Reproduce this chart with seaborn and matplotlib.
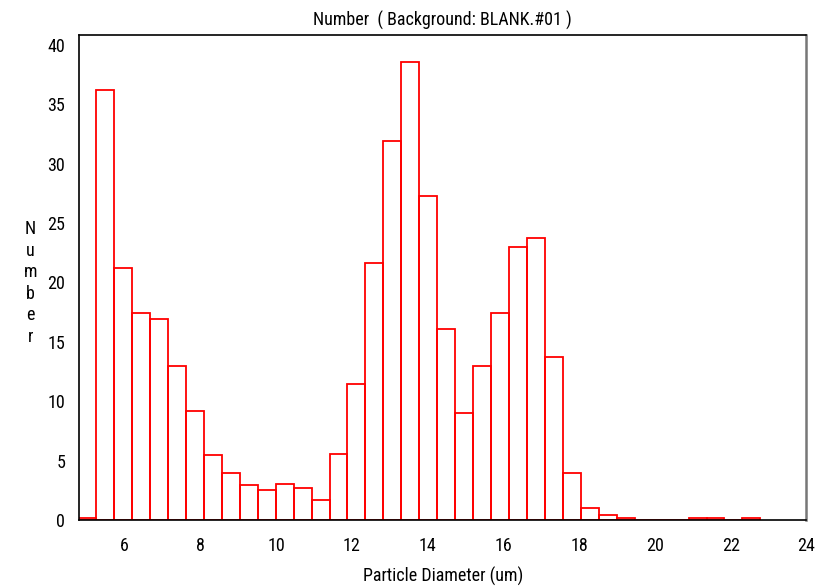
import numpy as np
import pandas as pd
import matplotlib
matplotlib.use("Agg")
import matplotlib.pyplot as plt
import seaborn as sns

# bin layout (first edge, width, count)
bin_start = 4.779
bin_width = 0.4738
n_bins = 38

# counts per bin, left to right
counts = [0.2, 36.2, 21.25, 17.4, 16.93, 13.0, 9.2, 5.45, 3.99, 2.92, 2.55,
          3.06, 2.67, 1.71, 5.53, 11.45, 21.67, 31.9, 38.54, 27.28, 16.11,
          8.98, 13.0, 17.4, 23.02, 23.72, 13.76, 3.99, 1.04, 0.45, 0.2,
          0.0, 0.0, 0.0, 0.2, 0.2, 0.0, 0.2]

x_ticks = [6, 8, 10, 12, 14, 16, 18, 20, 22, 24]
y_ticks = [0, 5, 10, 15, 20, 25, 30, 35, 40]

edges = list(bin_start + bin_width * np.arange(n_bins + 1))
centers = [(edges[i] + edges[i + 1]) / 2 for i in range(n_bins)]
df = pd.DataFrame({"diameter": centers, "count": counts})

sns.set_style("white")
plt.rcParams['font.family'] = ['Roboto Condensed', 'DejaVu Sans']
plt.rcParams['text.color'] = 'black'
plt.rcParams['axes.labelcolor'] = 'black'

fig = plt.figure(figsize=(8.28, 5.87), dpi=100)
ax = fig.add_axes([0.0954, 0.1141, 0.8786, 0.8263])

sns.histplot(data=df, x="diameter", weights="count", bins=edges,
             element="bars", fill=False, color="#ff0000", linewidth=1.3,
             ax=ax)

ax.set_xlim(4.80, 24)
ax.set_ylim(0, 40.84)
ax.set_xticks(x_ticks)
ax.set_yticks(y_ticks)
ax.tick_params(direction="out", length=7, width=1.2, labelsize=13,
               color="black", labelcolor="black")
ax.tick_params(axis="x", pad=5)
ax.tick_params(axis="y", pad=3)

for side in ["left", "bottom", "top"]:
    ax.spines[side].set_color("black")
    ax.spines[side].set_linewidth(1.2)
ax.spines["right"].set_color("#777777")
ax.spines["right"].set_linewidth(1.8)

ax.set_xlabel("Particle Diameter (um)", fontsize=13, labelpad=9)
ax.set_ylabel("")
fig.text(0.037, 0.518, "N\nu\nm\nb\ne\nr", fontsize=13, ha="center",
         va="center", linespacing=1.25)
ax.set_title("Number  ( Background: BLANK.#01 )", fontsize=13, pad=7,
             color="black")

fig.savefig("out.png", dpi=100)
